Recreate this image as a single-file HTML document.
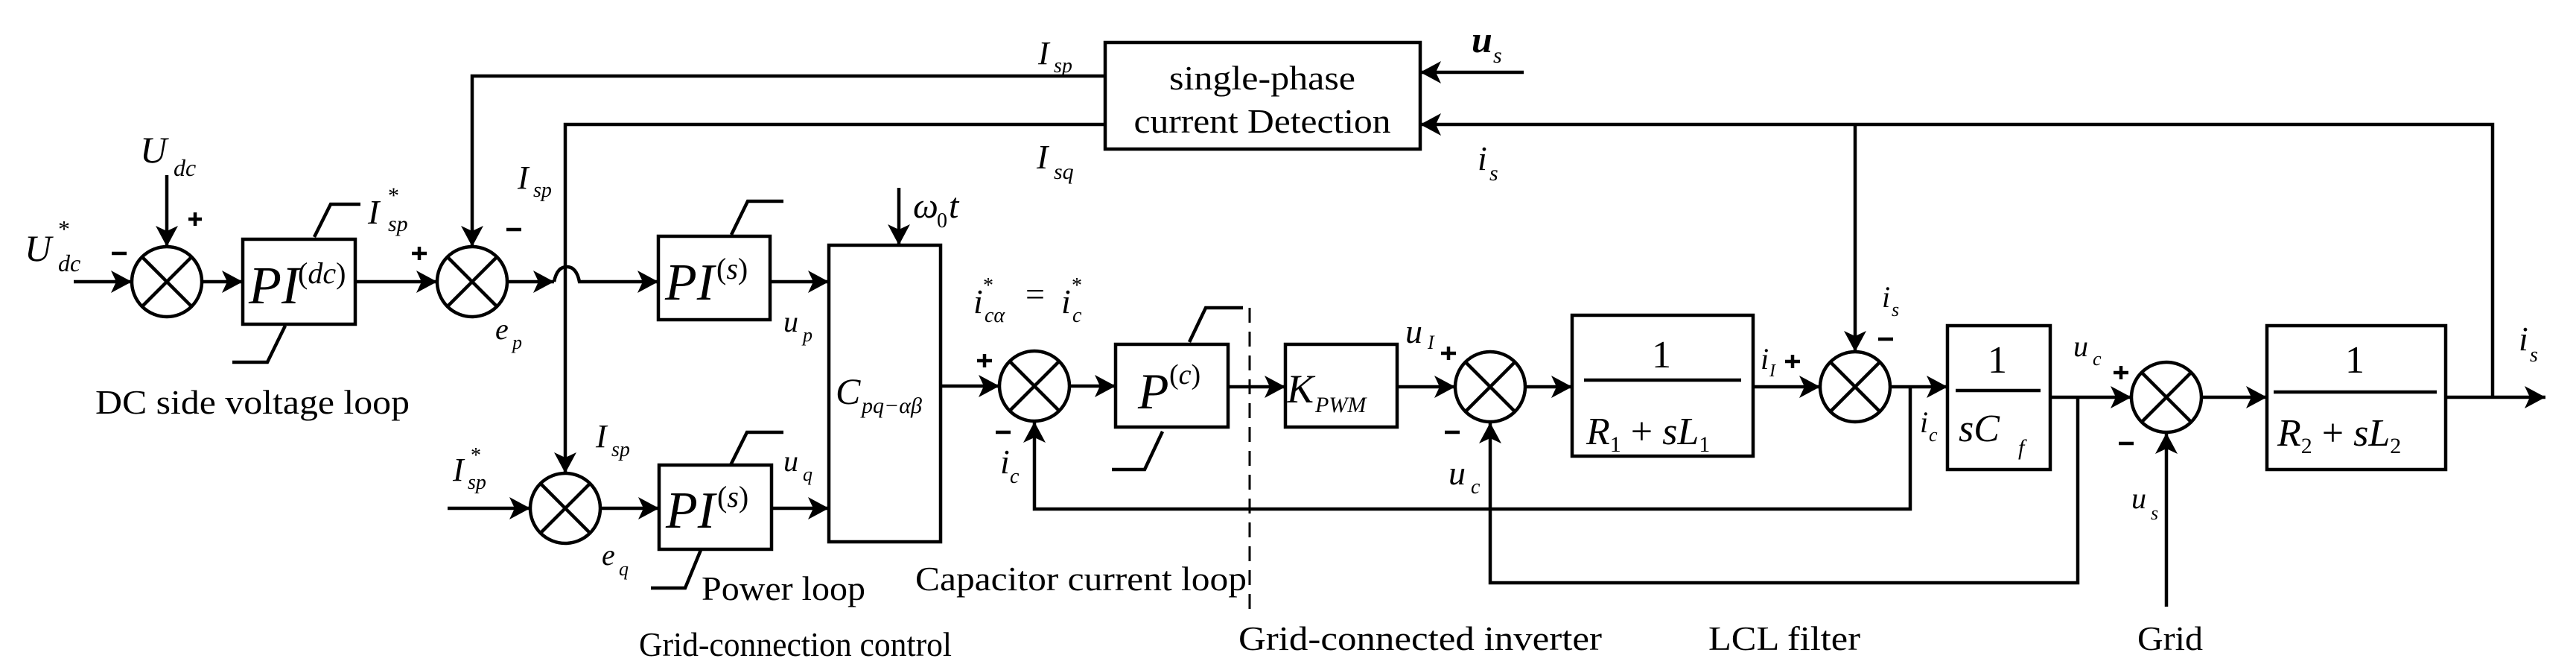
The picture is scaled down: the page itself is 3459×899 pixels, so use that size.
<!DOCTYPE html>
<html><head><meta charset="utf-8"><style>
html,body{margin:0;padding:0;background:#fff;}
svg{display:block;}
svg text{font-family:"Liberation Serif","Times New Roman","DejaVu Serif",serif;fill:#000;}
.i{font-style:italic;}
.t{font-size:46px;}
</style></head><body>
<svg width="3459" height="899" viewBox="0 0 3459 899" xmlns="http://www.w3.org/2000/svg" font-family="Liberation Serif, DejaVu Serif, serif">
<defs>
<marker id="a" markerUnits="userSpaceOnUse" markerWidth="30" markerHeight="30" refX="28" refY="15" orient="auto">
<path d="M0,0 L28,15 L0,30 L7,15 z" fill="#000"/>
</marker>
</defs>
<g fill="none" stroke="#000" stroke-width="4.5">
<circle cx="224" cy="378" r="47"/><path d="M191,345 L257,411 M257,345 L191,411"/>
<circle cx="634" cy="378" r="47"/><path d="M601,345 L667,411 M667,345 L601,411"/>
<circle cx="759" cy="682" r="47"/><path d="M726,649 L792,715 M792,649 L726,715"/>
<circle cx="1389" cy="518" r="47"/><path d="M1356,485 L1422,551 M1422,485 L1356,551"/>
<circle cx="2001" cy="519" r="47"/><path d="M1968,486 L2034,552 M2034,486 L1968,552"/>
<circle cx="2491" cy="519" r="47"/><path d="M2458,486 L2524,552 M2524,486 L2458,552"/>
<circle cx="2909" cy="533" r="47"/><path d="M2876,500 L2942,566 M2942,500 L2876,566"/>
<rect x="326" y="321" width="151" height="114"/>
<rect x="884" y="317" width="150" height="112"/>
<rect x="885" y="624" width="151" height="113"/>
<rect x="1113" y="329" width="150" height="398"/>
<rect x="1498" y="462" width="151" height="111"/>
<rect x="1726" y="462" width="150" height="111"/>
<rect x="2111" y="423" width="243" height="189"/>
<rect x="2615" y="437" width="138" height="193"/>
<rect x="3044" y="437" width="240" height="193"/>
<rect x="1484" y="57" width="423" height="143"/>
<path d="M2127,510 L2338,510 M2626,524 L2740,524 M3053,526 L3272,526"/>
<path d="M422,318 L444,274 L484,274 M383,437 L359,486 L312,486"/>
<path d="M982,315 L1004,270 L1052,270 M981,624 L1003,580 L1052,580"/>
<path d="M941,738 L920,789 L874,789"/>
<path d="M1597,459 L1619,413 L1669,413 M1561,579 L1537,630 L1493,630"/>
<path d="M99,378 L177,378" marker-end="url(#a)"/>
<path d="M224,235 L224,331" marker-end="url(#a)"/>
<path d="M271,378 L326,378" marker-end="url(#a)"/>
<path d="M477,378 L587,378" marker-end="url(#a)"/>
<path d="M681,378 L744,378" marker-end="url(#a)"/>
<path d="M744,378 Q748,358 761,358 Q774,358 778,378 L884,378" marker-end="url(#a)"/>
<path d="M1484,102 L634,102 L634,331" marker-end="url(#a)"/>
<path d="M1484,167 L759,167 L759,635" marker-end="url(#a)"/>
<path d="M601,682 L712,682" marker-end="url(#a)"/>
<path d="M806,682 L885,682" marker-end="url(#a)"/>
<path d="M1034,378 L1113,378" marker-end="url(#a)"/>
<path d="M1036,682 L1113,682" marker-end="url(#a)"/>
<path d="M1207,252 L1207,329" marker-end="url(#a)"/>
<path d="M1263,518 L1342,518" marker-end="url(#a)"/>
<path d="M1436,518 L1498,518" marker-end="url(#a)"/>
<path d="M1649,519 L1726,519" marker-end="url(#a)"/>
<path d="M1876,519 L1954,519" marker-end="url(#a)"/>
<path d="M2048,519 L2111,519" marker-end="url(#a)"/>
<path d="M2354,519 L2444,519" marker-end="url(#a)"/>
<path d="M2538,519 L2615,519" marker-end="url(#a)"/>
<path d="M2565,519 L2565,683 L1389,683 L1389,566" marker-end="url(#a)"/>
<path d="M2753,533 L2862,533" marker-end="url(#a)"/>
<path d="M2790,533 L2790,782 L2001,782 L2001,567" marker-end="url(#a)"/>
<path d="M2909,814 L2909,581" marker-end="url(#a)"/>
<path d="M2956,533 L3044,533" marker-end="url(#a)"/>
<path d="M3284,533 L3418,533" marker-end="url(#a)"/>
<path d="M3347,533 L3347,167 L1907,167" marker-end="url(#a)"/>
<path d="M2491,167 L2491,472" marker-end="url(#a)"/>
<path d="M2046,97 L1907,97" marker-end="url(#a)"/>
<path d="M1678,413 L1678,822" stroke-width="3" stroke-dasharray="20,12"/>
<path d="M253,294 L271,294 M262,285 L262,303"/>
<path d="M150,340 L170,340"/>
<path d="M553,340 L573,340 M563,331 L563,349"/>
<path d="M680,308 L700,308"/>
<path d="M1312,484 L1332,484 M1322,475 L1322,493"/>
<path d="M1337,580 L1357,580"/>
<path d="M1935,474 L1955,474 M1945,465 L1945,483"/>
<path d="M1940,580 L1960,580"/>
<path d="M2397,485 L2417,485 M2407,476 L2407,494"/>
<path d="M2522,455 L2542,455"/>
<path d="M2838,500 L2858,500 M2848,491 L2848,509"/>
<path d="M2845,595 L2865,595"/>
</g>
<g>
<text x="334" y="407" class="i" font-size="72">PI</text><text x="400" y="380" font-size="40">(<tspan class="i">dc</tspan>)</text>
<text x="893" y="402" class="i" font-size="70">PI</text><text x="962" y="374" font-size="40">(<tspan class="i">s</tspan>)</text>
<text x="894" y="708" class="i" font-size="70">PI</text><text x="963" y="680" font-size="40">(<tspan class="i">s</tspan>)</text>
<text x="1122" y="542" class="i" font-size="50">C</text><text x="1157" y="554" class="i" font-size="30">pq−αβ</text>
<text x="1528" y="548" class="i" font-size="68">P</text><text x="1570" y="515" font-size="38">(<tspan class="i">c</tspan>)</text>
<text x="1728" y="540" class="i" font-size="54">K</text><text x="1766" y="553" class="i" font-size="30">PWM</text>
<text x="2218" y="493" font-size="52">1</text>
<text x="2130" y="596" font-size="52"><tspan class="i">R</tspan><tspan font-size="30" dy="10">1</tspan><tspan dy="-10"> + </tspan><tspan class="i">sL</tspan><tspan font-size="30" dy="10">1</tspan></text>
<text x="2669" y="500" font-size="52">1</text>
<text x="2630" y="592" class="i" font-size="52">sC</text><text x="2710" y="610" class="i" font-size="30">f</text>
<text x="3149" y="500" font-size="52">1</text>
<text x="3058" y="598" font-size="52"><tspan class="i">R</tspan><tspan font-size="30" dy="10">2</tspan><tspan dy="-10"> + </tspan><tspan class="i">sL</tspan><tspan font-size="30" dy="10">2</tspan></text>
<text x="1695" y="120" font-size="46" text-anchor="middle" textLength="250" lengthAdjust="spacingAndGlyphs">single-phase</text>
<text x="1695" y="178" font-size="46" text-anchor="middle" textLength="345" lengthAdjust="spacingAndGlyphs">current Detection</text>
<text x="33" y="350" class="i" font-size="50">U</text><text x="78" y="318" font-size="32">*</text><text x="78" y="364" class="i" font-size="32">dc</text>
<text x="188" y="218" class="i" font-size="50">U</text><text x="233" y="236" class="i" font-size="32">dc</text>
<text x="494" y="300" class="i" font-size="46">I</text><text x="521" y="272" font-size="30">*</text><text x="521" y="310" class="i" font-size="30">sp</text>
<text x="695" y="253" class="i" font-size="44">I</text><text x="716" y="264" class="i" font-size="28">sp</text>
<text x="665" y="455" class="i" font-size="40">e</text><text x="688" y="468" class="i" font-size="26">p</text>
<text x="1052" y="445" class="i" font-size="40">u</text><text x="1078" y="458" class="i" font-size="26">p</text>
<text x="1052" y="632" class="i" font-size="40">u</text><text x="1078" y="645" class="i" font-size="26">q</text>
<text x="608" y="645" class="i" font-size="44">I</text><text x="632" y="620" font-size="28">*</text><text x="628" y="656" class="i" font-size="28">sp</text>
<text x="800" y="600" class="i" font-size="44">I</text><text x="821" y="612" class="i" font-size="28">sp</text>
<text x="808" y="758" class="i" font-size="40">e</text><text x="831" y="772" class="i" font-size="26">q</text>
<text x="1394" y="86" class="i" font-size="44">I</text><text x="1415" y="97" class="i" font-size="28">sp</text>
<text x="1392" y="226" class="i" font-size="46">I</text><text x="1415" y="240" class="i" font-size="30">sq</text>
<text x="1976" y="70" class="i" font-size="50" font-weight="bold">u</text><text x="2005" y="84" class="i" font-size="30">s</text>
<text x="1984" y="228" class="i" font-size="46">i</text><text x="2000" y="242" class="i" font-size="30">s</text>
<text x="1226" y="292" class="i" font-size="48">ω</text><text x="1258" y="305" font-size="28">0</text><text x="1274" y="292" class="i" font-size="48">t</text>
<text x="1307" y="420" class="i" font-size="46">i</text><text x="1320" y="392" font-size="28">*</text><text x="1322" y="432" class="i" font-size="28">cα</text>
<text x="1377" y="410" font-size="46">=</text>
<text x="1425" y="420" class="i" font-size="46">i</text><text x="1439" y="392" font-size="28">*</text><text x="1440" y="432" class="i" font-size="28">c</text>
<text x="1343" y="635" class="i" font-size="46">i</text><text x="1356" y="648" class="i" font-size="28">c</text>
<text x="1887" y="460" class="i" font-size="46">u</text><text x="1917" y="468" class="i" font-size="26">I</text>
<text x="1945" y="650" class="i" font-size="46">u</text><text x="1975" y="662" class="i" font-size="28">c</text>
<text x="2364" y="495" class="i" font-size="40">i</text><text x="2376" y="505" class="i" font-size="24">I</text>
<text x="2527" y="412" class="i" font-size="40">i</text><text x="2540" y="424" class="i" font-size="26">s</text>
<text x="2578" y="580" class="i" font-size="40">i</text><text x="2590" y="592" class="i" font-size="26">c</text>
<text x="2784" y="478" class="i" font-size="40">u</text><text x="2810" y="490" class="i" font-size="26">c</text>
<text x="2862" y="682" class="i" font-size="40">u</text><text x="2888" y="697" class="i" font-size="26">s</text>
<text x="3382" y="470" class="i" font-size="46">i</text><text x="3397" y="485" class="i" font-size="28">s</text>
<text x="128" y="555" class="t" textLength="422" lengthAdjust="spacingAndGlyphs">DC side voltage loop</text>
<text x="942" y="805" class="t" textLength="220" lengthAdjust="spacingAndGlyphs">Power loop</text>
<text x="858" y="880" class="t" textLength="420" lengthAdjust="spacingAndGlyphs">Grid-connection control</text>
<text x="1229" y="792" class="t" textLength="445" lengthAdjust="spacingAndGlyphs">Capacitor current loop</text>
<text x="1663" y="872" class="t" textLength="488" lengthAdjust="spacingAndGlyphs">Grid-connected  inverter</text>
<text x="2294" y="872" class="t" textLength="204" lengthAdjust="spacingAndGlyphs">LCL filter</text>
<text x="2870" y="872" class="t" textLength="88" lengthAdjust="spacingAndGlyphs">Grid</text>
</g>
</svg>
</body></html>
